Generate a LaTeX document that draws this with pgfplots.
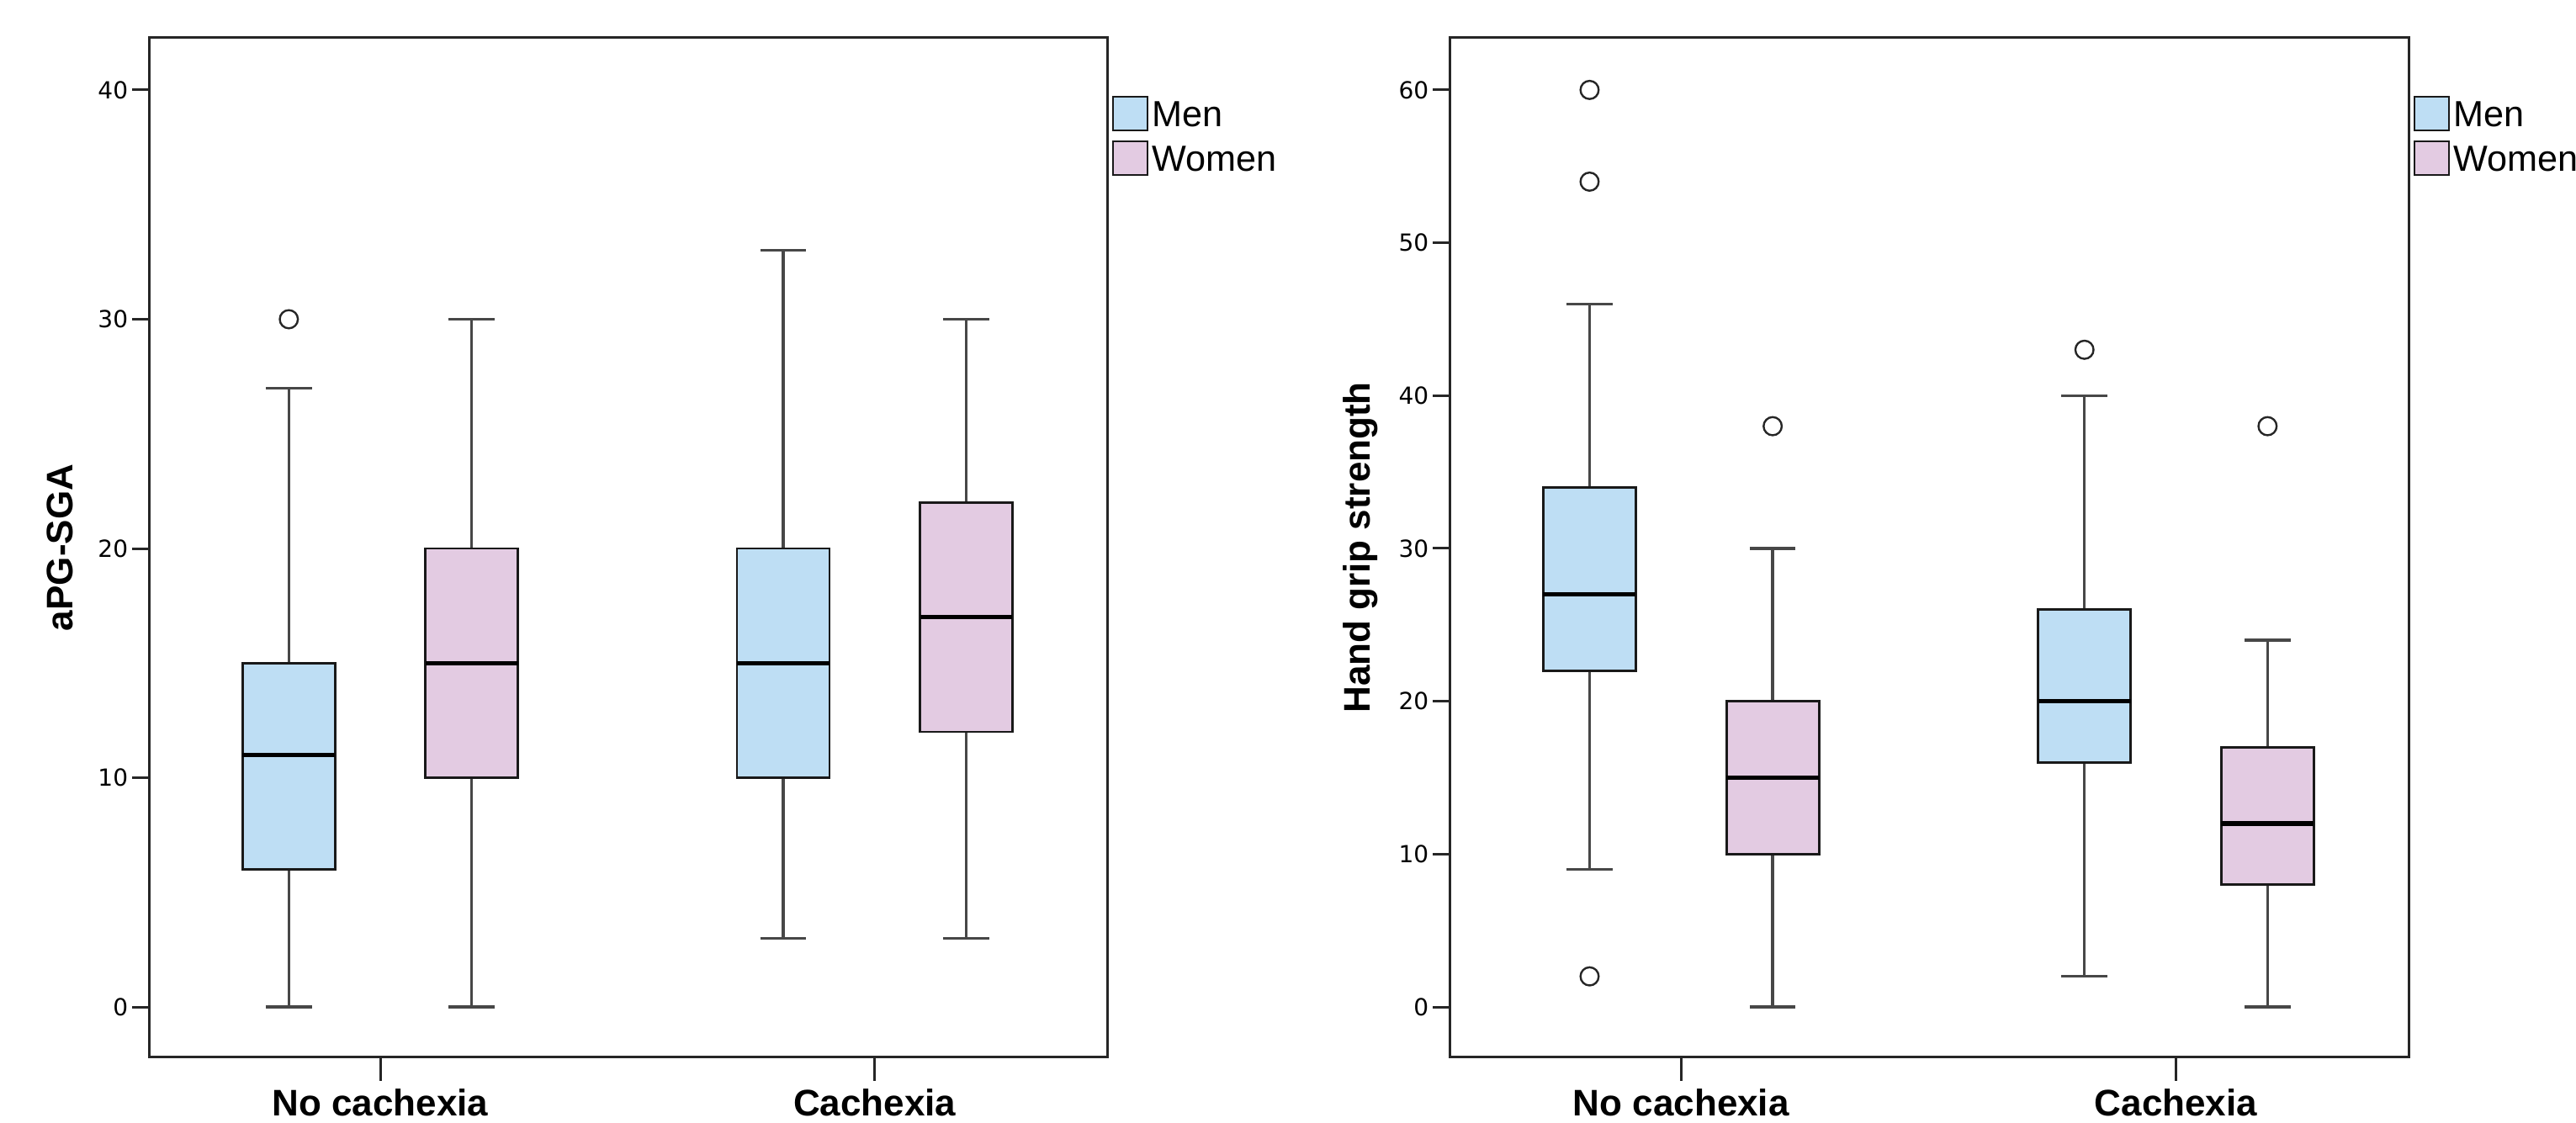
\documentclass[border=0pt]{standalone}
\usepackage{pgfplots}
\pgfplotsset{compat=1.18}
\usepgfplotslibrary{statistics}
\usepackage{fontspec}
\setmainfont{Liberation Sans}
\newfontfamily\tickfont{DejaVu Sans}
\definecolor{menblue}{RGB}{190,222,244}
\definecolor{womenpink}{RGB}{227,203,226}

\pgfplotsset{
  spssaxis/.style={
    scale only axis,
    height=303pt,
    axis line style={black!85, line width=0.75pt},
    xmin=0.532, xmax=2.470,
    xtick={1,2}, xticklabels={No cachexia,Cachexia},
    xtick pos=bottom, ytick pos=left,
    tick align=outside,
    tick style={black!85, line width=0.75pt},
    xtick style={/pgfplots/major tick length=7pt},
    ytick style={/pgfplots/major tick length=5pt},
    xticklabel style={font=\bfseries\fontsize{11}{13}\selectfont, inner sep=0pt, anchor=north, yshift=-5pt},
    yticklabel style={font=\tickfont\fontsize{7}{8}\selectfont, inner sep=0pt, anchor=east, xshift=-1.75pt},
    /pgf/number format/assume math mode=true,
    ylabel style={font=\bfseries\fontsize{11}{13}\selectfont, at={(axis description cs:-0.0926,0.5)}, anchor=center, inner sep=0pt},
    legend style={draw=none, fill=none, at={(1.0044,0.9439)}, anchor=north west, inner sep=0pt, row sep=1.5pt, font=\fontsize{10.8}{12}\selectfont, nodes={inner sep=1pt}},
    legend cell align=left,
    legend image code/.code={\draw[#1, line width=0.6pt] (0pt,-4pt) rectangle (10.25pt,6pt);},
    clip=false,
    boxplot/draw direction=y,
  },
  common box/.style={
    boxplot/draw direction=y,
    boxplot/every whisker/.style={draw=black!72, line width=0.85pt},
    boxplot/every median/.style={draw=black, line width=1.3pt},
    mark=o, mark size=2.7pt, mark options={draw=black!85, line width=0.6pt},
  },
  menbox/.style={common box,
    boxplot/every box/.style={draw=black!90, line width=0.7pt, fill=menblue}},
  womenbox/.style={common box,
    boxplot/every box/.style={draw=black!90, line width=0.7pt, fill=womenpink}},
}

\begin{document}
\begin{tikzpicture}
\path[use as bounding box] (0,0) rectangle (765.5pt,333.75pt);

% ---------- Left: aPG-SGA ----------
\begin{axis}[spssaxis,
  at={(44.25pt,19.5pt)}, anchor=south west,
  width=284.75pt,
  ymin=-2.2, ymax=42.275,
  ytick={0,10,20,30,40},
  ylabel={aPG-SGA},
]
\addlegendimage{draw=black!90, fill=menblue}
\addlegendentry{Men}
\addlegendimage{draw=black!90, fill=womenpink}
\addlegendentry{Women}

\addplot[menbox, boxplot prepared={draw position=0.815, box extend=0.187, whisker extend=0.093,
  lower whisker=0, lower quartile=6, median=11, upper quartile=15, upper whisker=27}]
  coordinates {(0,30)};
\addplot[womenbox, boxplot prepared={draw position=1.185, box extend=0.187, whisker extend=0.093,
  lower whisker=0, lower quartile=10, median=15, upper quartile=20, upper whisker=30}]
  coordinates {};
\addplot[menbox, boxplot prepared={draw position=1.815, box extend=0.187, whisker extend=0.093,
  lower whisker=3, lower quartile=10, median=15, upper quartile=20, upper whisker=33}]
  coordinates {};
\addplot[womenbox, boxplot prepared={draw position=2.185, box extend=0.187, whisker extend=0.093,
  lower whisker=3, lower quartile=12, median=17, upper quartile=22, upper whisker=30}]
  coordinates {};
\end{axis}

% ---------- Right: Hand grip strength ----------
\begin{axis}[spssaxis,
  at={(430.75pt,19.5pt)}, anchor=south west,
  width=285pt,
  ymin=-3.30, ymax=63.41,
  ytick={0,10,20,30,40,50,60},
  ylabel={Hand grip strength},
]
\addlegendimage{draw=black!90, fill=menblue}
\addlegendentry{Men}
\addlegendimage{draw=black!90, fill=womenpink}
\addlegendentry{Women}

\addplot[menbox, boxplot prepared={draw position=0.815, box extend=0.187, whisker extend=0.093,
  lower whisker=9, lower quartile=22, median=27, upper quartile=34, upper whisker=46}]
  coordinates {(0,60) (0,54) (0,2)};
\addplot[womenbox, boxplot prepared={draw position=1.185, box extend=0.187, whisker extend=0.093,
  lower whisker=0, lower quartile=10, median=15, upper quartile=20, upper whisker=30}]
  coordinates {(0,38)};
\addplot[menbox, boxplot prepared={draw position=1.815, box extend=0.187, whisker extend=0.093,
  lower whisker=2, lower quartile=16, median=20, upper quartile=26, upper whisker=40}]
  coordinates {(0,43)};
\addplot[womenbox, boxplot prepared={draw position=2.185, box extend=0.187, whisker extend=0.093,
  lower whisker=0, lower quartile=8, median=12, upper quartile=17, upper whisker=24}]
  coordinates {(0,38)};
\end{axis}
\end{tikzpicture}
\end{document}
